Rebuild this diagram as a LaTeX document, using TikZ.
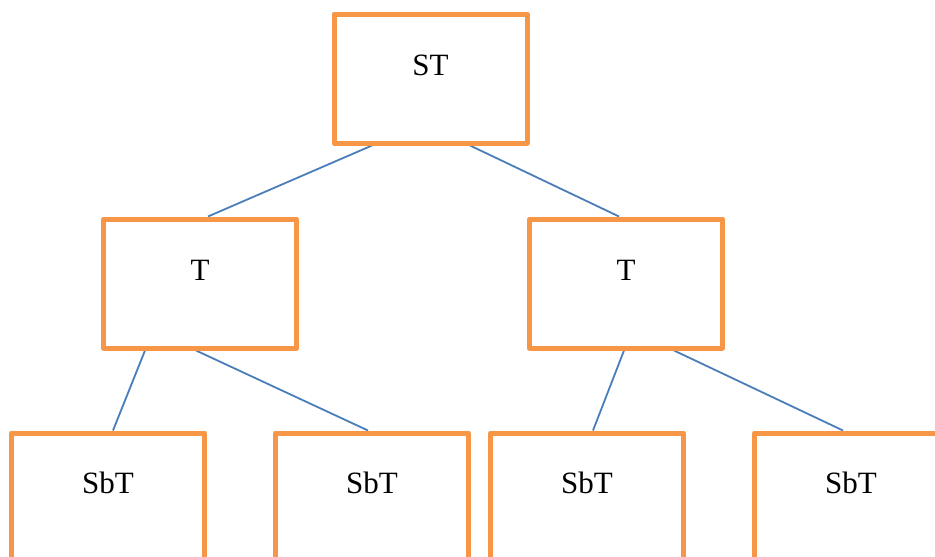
\documentclass[tikz,border=0pt]{standalone}
\usepackage{fontspec}
\setmainfont{Liberation Serif}
\usetikzlibrary{backgrounds}
\definecolor{boxorange}{HTML}{F79646}
\definecolor{linkblue}{HTML}{4A7EBB}
\begin{document}
\begin{tikzpicture}[x=1pt,y=-1pt,
  box/.style={draw=boxorange, line width=5pt, line join=round,
    minimum width=193pt, minimum height=129pt, inner sep=0pt, outer sep=2.5pt},
  lbl/.style={anchor=base, inner sep=0pt, font=\fontsize{31}{36}\selectfont},
  link/.style={draw=linkblue, line width=1.8pt}]
\useasboundingbox (0,0) rectangle (935,557);
\clip (0,0) rectangle (935,557);

% boxes of the tree
\node[box] (st) at (430.5,78.5) {};
\node[box] (tl) at (200,283.5) {};
\node[box] (tr) at (626,283.5) {};
\node[box] (s1) at (108,497.5) {};
\node[box] (s2) at (372,497.5) {};
\node[box] (s3) at (587,497.5) {};
\node[box] (s4) at (851,497.5) {};

% captions near the top of each box
\node[lbl] (stl) at ([yshift=-64pt]st.north) {ST};
\node[lbl] (tll) at ([yshift=-64pt]tl.north) {T};
\node[lbl] (trl) at ([yshift=-64pt]tr.north) {T};
\node[lbl] (s1l) at ([yshift=-63pt]s1.north) {SbT};
\node[lbl] (s2l) at ([yshift=-63pt]s2.north) {SbT};
\node[lbl] (s3l) at ([yshift=-63pt]s3.north) {SbT};
\node[lbl] (s4l) at ([yshift=-63pt]s4.north) {SbT};

% connectors, running between the outer edges of the frames
\begin{scope}[on background layer]
\draw[link] ([xshift=40.5pt]st.south west) -- ([xshift=107pt]tl.north west);
\draw[link] ([xshift=138.5pt]st.south west) -- ([xshift=92pt]tr.north west);
\draw[link] ([xshift=44pt]tl.south west) -- ([xshift=104pt]s1.north west);
\draw[link] ([xshift=95pt]tl.south west) -- ([xshift=95pt]s2.north west);
\draw[link] ([xshift=97pt]tr.south west) -- ([xshift=105pt]s3.north west);
\draw[link] ([xshift=147pt]tr.south west) -- ([xshift=91pt]s4.north west);
\end{scope}
\end{tikzpicture}
\end{document}
